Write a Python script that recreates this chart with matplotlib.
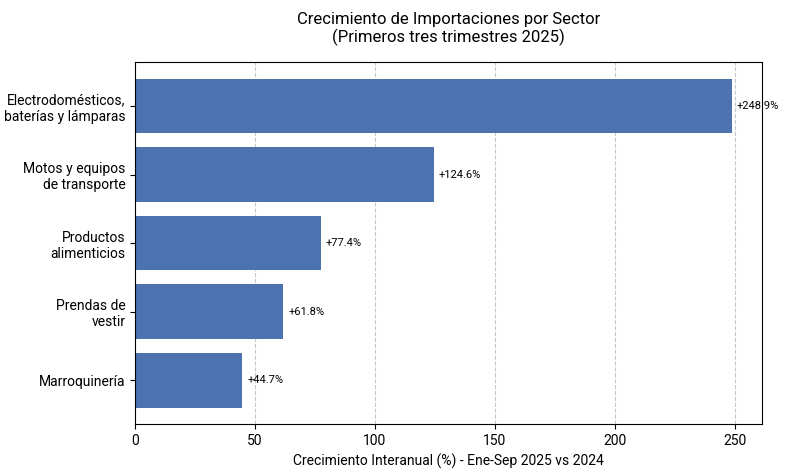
import matplotlib
matplotlib.use("Agg")
import matplotlib.pyplot as plt

plt.rcParams['font.family'] = ['Roboto', 'DejaVu Sans']

sectores = [
    'Electrodomésticos,\nbaterías y lámparas',
    'Motos y equipos\nde transporte',
    'Productos\nalimenticios',
    'Prendas de\nvestir',
    'Marroquinería',
]
crecimiento = [248.9, 124.6, 77.4, 61.8, 44.7]

fig, ax = plt.subplots(figsize=(7.9, 4.74), dpi=100)
fig.subplots_adjust(left=0.171, right=0.9646, top=0.869, bottom=0.1055)

# invert order so first sector sits at the top
ypos = list(range(len(sectores)))[::-1]
bars = ax.barh(ypos, crecimiento, height=0.8, color='#4c72b0', zorder=2)

for b, v in zip(bars, crecimiento):
    ax.text(b.get_width() + 2, b.get_y() + b.get_height() / 2, f'+{v}%',
            va='center', ha='left', fontsize=8, zorder=3)

ax.set_yticks(ypos)
ax.set_yticklabels(sectores, fontsize=10)
ax.tick_params(axis='x', labelsize=10)
ax.set_xlabel('Crecimiento Interanual (%) - Ene-Sep 2025 vs 2024', fontsize=10)
ax.set_title('Crecimiento de Importaciones por Sector\n(Primeros tres trimestres 2025)',
             fontsize=12, pad=14)
ax.grid(axis='x', linestyle='--', alpha=0.7, zorder=0)
ax.set_axisbelow(True)

fig.savefig('out.png', dpi=100)
